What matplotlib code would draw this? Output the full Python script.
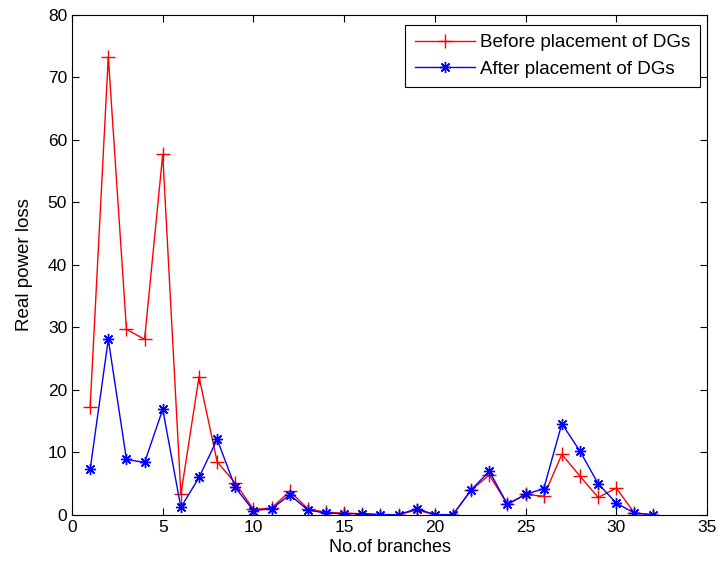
import matplotlib.pyplot as plt

plt.rcParams['font.family'] = ['Liberation Sans', 'DejaVu Sans']

branches = list(range(1, 33))
before = [17.3, 73.3, 29.7, 28.1, 57.7, 3.3, 22.1, 8.5, 5.1, 0.9,
          1.1, 3.8, 1.0, 0.4, 0.3, 0.2, 0.05, 0.05, 0.8, 0.05,
          0.05, 4.0, 6.4, 1.7, 3.3, 3.0, 9.7, 6.2, 2.8, 4.3,
          0.3, 0.05]
after = [7.3, 28.1, 8.9, 8.4, 16.9, 1.2, 6.0, 12.1, 4.4, 0.7,
         1.0, 3.2, 0.8, 0.3, 0.2, 0.2, 0.05, 0.05, 1.0, 0.05,
         0.05, 4.0, 7.0, 1.7, 3.3, 4.2, 14.6, 10.2, 5.0, 1.9,
         0.3, 0.05]

fig = plt.figure(figsize=(7.18, 5.72), dpi=100)
ax = fig.add_axes([0.1003, 0.0997, 0.8844, 0.8743])

ax.plot(branches, before, color='red', lw=1, marker='+', ms=10, mew=1,
        label='Before placement of DGs')
ax.plot(branches, after, color='blue', lw=1, marker=(8, 2, 0), ms=8, mew=1,
        label='After placement of DGs')

ax.set_xlim(0, 35)
ax.set_ylim(0, 80)
ax.set_xticks(range(0, 36, 5))
ax.set_yticks(range(0, 81, 10))
ax.tick_params(direction='in', top=True, right=True, labelsize=12.5, length=5)
ax.set_xlabel('No.of branches', fontsize=13, labelpad=3)
ax.set_ylabel('Real power loss', fontsize=13.5, labelpad=11)

leg = ax.legend(loc='upper right', bbox_to_anchor=(0.989, 0.98), borderaxespad=0,
                fontsize=13.5, fancybox=False, framealpha=1, edgecolor='black',
                handlelength=3.2, handletextpad=0.3, labelspacing=0.5,
                borderpad=0.5)
leg.get_frame().set_linewidth(0.8)

fig.savefig('out.png', dpi=100)
